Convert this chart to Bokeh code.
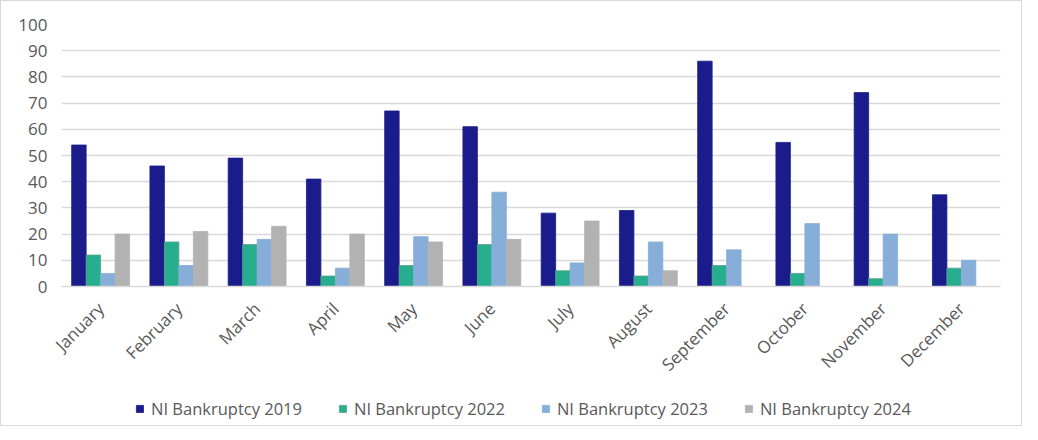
import math
from bokeh.plotting import figure
from bokeh.layouts import column
from bokeh.models import FactorRange, Range1d, Legend, LegendItem, ColumnDataSource
from bokeh.transform import dodge
from bokeh.embed import file_html
from bokeh.resources import INLINE

months = ["January", "February", "March", "April", "May", "June", "July",
          "August", "September", "October", "November", "December"]
s2019 = [54, 46, 49, 41, 67, 61, 28, 29, 86, 55, 74, 35]
s2022 = [12, 17, 16, 4, 8, 16, 6, 4, 8, 5, 3, 7]
s2023 = [5, 8, 18, 7, 19, 36, 9, 17, 14, 24, 20, 10]
s2024 = [20, 21, 23, 20, 17, 18, 25, 6, None, None, None, None]
series_names = ["NI Bankruptcy 2019", "NI Bankruptcy 2022", "NI Bankruptcy 2023", "NI Bankruptcy 2024"]
y_ticks = list(range(0, 101, 10))

colors = ["#1b1c8c", "#26ae8f", "#86aed8", "#b2b2b2"]
lines = ["#1b1c8c", "#5b9f86", "#86aed8", "#b2b2b2"]

src = ColumnDataSource(dict(month=months, a=s2019, b=s2022,
                            c=s2023, d=[v if v is not None else float("nan") for v in s2024]))

H1, H2 = 385, 39
p = figure(x_range=FactorRange(*months), y_range=Range1d(0, 100),
           width=1020, height=H1, output_backend="svg", toolbar_location=None,
           min_border_left=60, min_border_right=21, min_border_top=23, min_border_bottom=H1 - 286)

w = 0.185
cols = ["a", "b", "c", "d"]
for i, (col, c, lc) in enumerate(zip(cols, colors, lines)):
    off = (i - 1.5) * w
    p.vbar(x=dodge("month", off, range=p.x_range), top=col, width=w, source=src,
           fill_color=c, line_color=lc, line_width=0.8)

p.outline_line_color = None
p.xgrid.grid_line_color = None
p.ygrid.grid_line_color = "#d9d9d9"
p.ygrid.grid_line_width = 1.3
p.yaxis.ticker = y_ticks
p.yaxis.axis_line_color = None
p.yaxis.major_tick_line_color = None
p.yaxis.minor_tick_line_color = None
p.yaxis.major_tick_out = 0
p.yaxis.major_label_standoff = 14
p.xaxis.axis_line_color = "#d9d9d9"
p.xaxis.axis_line_width = 1.3
p.xaxis.major_tick_line_color = None
p.xaxis.minor_tick_line_color = None
p.xaxis.major_tick_out = 0
p.xaxis.major_label_orientation = math.pi / 4
p.xaxis.major_label_standoff = 19
for ax in (p.xaxis, p.yaxis):
    ax.major_label_text_color = "#595959"
    ax.major_label_text_font = "Open Sans"
    ax.major_label_text_font_size = "17px"

# legend strip: same series drawn into a range where no bar is visible; only the legend shows
lg = figure(width=1020, height=H2, output_backend="svg", toolbar_location=None,
            x_axis_type=None, y_axis_type=None,
            x_range=FactorRange(*months), y_range=Range1d(1000, 1001),
            min_border=0, outline_line_color=None)
lg.xgrid.visible = False
lg.ygrid.visible = False
lrs = [lg.vbar(x="month", top=col, width=w, source=src, fill_color=c, line_color=lc, line_width=0.8)
       for col, c, lc in zip(cols, colors, lines)]
legend = Legend(items=[LegendItem(label=n, renderers=[r]) for n, r in zip(series_names, lrs)],
                orientation="horizontal", location=(74, 5),
                glyph_width=9, glyph_height=9, label_standoff=7, spacing=36,
                padding=0, margin=0, border_line_color=None, background_fill_alpha=0,
                label_text_font="Open Sans", label_text_font_size="16.5px",
                label_text_color="#595959", label_height=20)
lg.add_layout(legend, "center")

layout = column(p, lg, spacing=0, styles={"border": "1px solid #d9d9d9"})

open("out.html", "w").write(file_html(layout, INLINE))
